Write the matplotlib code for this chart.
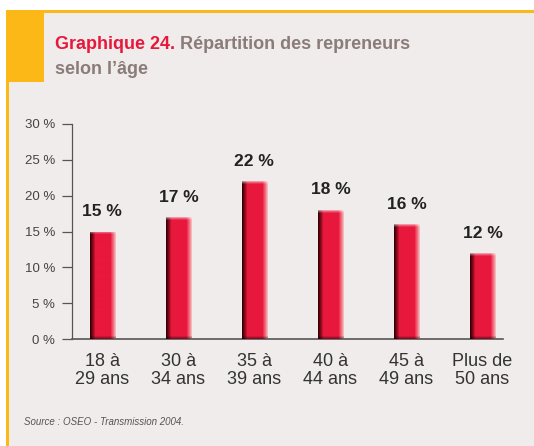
import numpy as np
import matplotlib.pyplot as plt
from matplotlib.colors import LinearSegmentedColormap
from matplotlib.patches import Rectangle

# Données
categories = ['18 à\n29 ans', '30 à\n34 ans', '35 à\n39 ans', '40 à\n44 ans', '45 à\n49 ans', 'Plus de\n50 ans']
valeurs = [15, 17, 22, 18, 16, 12]
yticks = [0, 5, 10, 15, 20, 25, 30]

fond = '#f0eceb'
jaune = '#fbb816'
rouge = '#e8173c'
gris_titre = '#8a7c79'

plt.rcParams['font.family'] = ['Liberation Sans', 'DejaVu Sans']

fig = plt.figure(figsize=(5.34, 4.46), dpi=100)
fig.patch.set_facecolor('white')

W, H = 534, 446
def fx(px):
    return px / W
def fy(py):
    return 1 - py / H

# Cadre de fond + bordures jaunes
fig.patches.append(Rectangle((fx(7), fy(446)), 1, fy(11) - fy(446), transform=fig.transFigure,
                             facecolor=fond, edgecolor='none', zorder=-2))
for r in [((fx(6), fy(12.5)), 1, 2 / H),
          ((fx(6), fy(446)), 2.5 / W, fy(11) - fy(446)),
          ((fx(6), fy(82)), (44 - 6) / W, fy(11) - fy(82))]:
    fig.patches.append(Rectangle(*r, transform=fig.transFigure, facecolor=jaune,
                                 edgecolor='none', zorder=-1))

# Titre
taille_titre = 13
t1 = fig.text(fx(55), fy(49), 'Graphique 24. ', color=rouge, fontsize=taille_titre, fontweight='bold',
              va='baseline')
fig.canvas.draw()
bb = t1.get_window_extent()
fig.text(bb.x1 / W, fy(49), 'Répartition des repreneurs', color=gris_titre, fontsize=taille_titre,
         fontweight='bold', va='baseline')
fig.text(fx(55), fy(74), 'selon l\u2019âge', color=gris_titre, fontsize=taille_titre, fontweight='bold',
         va='baseline')

# Axe
ax = fig.add_axes([fx(72), fy(339), fx(503) - fx(72), fy(124) - fy(339)])
ax.set_zorder(2)
ax.set_facecolor('none')
x = np.arange(len(valeurs))
ax.set_xlim(-0.40, 5.27)
ax.set_ylim(0, 30)

cmap = LinearSegmentedColormap.from_list('barre', [
    (0.0, '#3a0006'), (0.08, '#7a0818'), (0.2, rouge), (0.8, rouge),
    (0.92, '#f27080'), (1.0, '#f6b8b8')])
colonnes = cmap(np.linspace(0, 1, 26))[:, :3]

largeur = 0.33
barres = ax.bar(x, valeurs, width=largeur, color=rouge, edgecolor='none', zorder=2)
for b in barres:
    x0, w, h = b.get_x(), b.get_width(), b.get_height()
    # hauteur en pixels pour les bords haut / bas
    n = int(round(ax.transData.transform((0, h))[1] - ax.transData.transform((0, 0))[1]))
    img = np.tile(colonnes, (n, 1, 1))
    for i, a in enumerate([0.55, 0.3, 0.12]):
        img[i] = img[i] + (1 - img[i]) * a
    for i, a in enumerate([0.45, 0.28, 0.12]):
        img[n - 1 - i] = img[n - 1 - i] * (1 - a)
    im = ax.imshow(img, aspect='auto', extent=[x0, x0 + w, 0, h], zorder=3,
                   interpolation='bilinear')
    im.set_clip_path(b)
    ax.annotate(f'{h:g} %', (x0 + w / 2, h), xytext=(0, 9), textcoords='offset points',
                ha='center', va='bottom', fontsize=12.5, fontweight='bold', color='#222222')

ax.set_xlim(-0.40, 5.27)
ax.set_ylim(0, 30)

for s in ['top', 'right']:
    ax.spines[s].set_visible(False)
ax.spines['left'].set_color('#555555')
ax.spines['bottom'].set_color('#555555')
ax.spines['left'].set_linewidth(0.9)
ax.spines['bottom'].set_linewidth(1.2)

ax.set_yticks(yticks)
ax.set_yticklabels([f'{v} %' for v in yticks], fontsize=9.5, color='#444444')
ax.tick_params(axis='y', length=7, width=0.9, color='#555555', pad=5)
ax.set_xticks(x)
ax.set_xticklabels(categories, fontsize=13, color='#333333', linespacing=1.1)
ax.tick_params(axis='x', length=0, pad=10)

# Source
fig.text(fx(24), fy(425), 'Source : OSEO - Transmission 2004.', fontsize=7, style='italic',
         color='#555555', va='baseline')

fig.savefig('out.png', dpi=100, facecolor=fig.get_facecolor())
